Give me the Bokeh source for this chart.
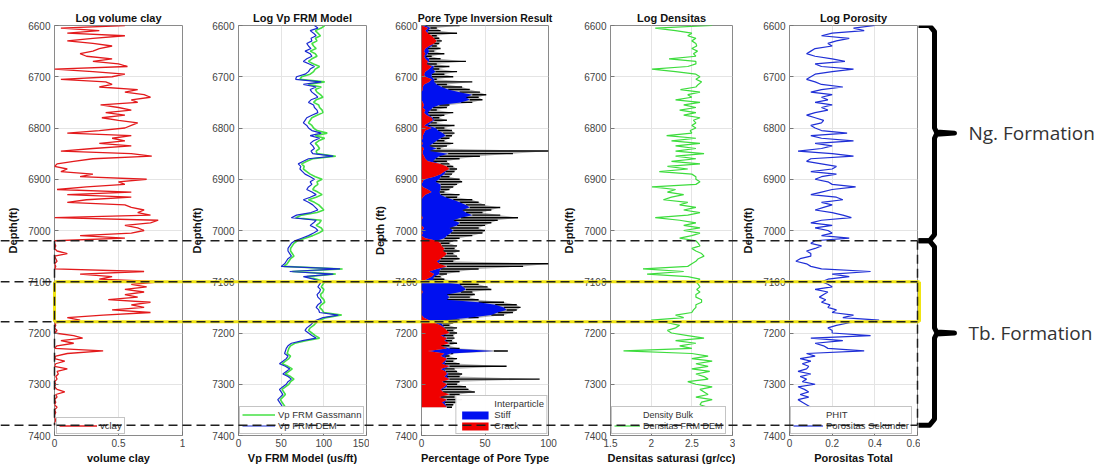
from bokeh.plotting import figure
from bokeh.models import Range1d, FixedTicker, Legend, LegendItem, GridBox, Spacer
from bokeh.embed import file_html
from bokeh.resources import INLINE
from bokeh.core.properties import value

# ---------------- data ----------------
depth_ticks = [6600, 6700, 6800, 6900, 7000, 7100, 7200, 7300, 7400]

vclay_depth = list(range(6600, 7385, 5))
vclay = [
    0.55, 0.05, 0.35, 0.10, 0.55, 0.30, 0.10, 0.30, 0.45, 0.35,
    0.30, 0.20, 0.25, 0.45, 0.30, 0.50, 0.57, 0.00, 0.30, 0.55,
    0.45, 0.05, 0.40, 0.45, 0.35, 0.65, 0.55, 0.70, 0.75, 0.60,
    0.65, 0.36, 0.50, 0.60, 0.40, 0.55, 0.37, 0.50, 0.65, 0.60,
    0.55, 0.35, 0.10, 0.60, 0.45, 0.55, 0.35, 0.60, 0.30, 0.05,
    0.60, 0.76, 0.30, 0.15, 0.02, 0.00, 0.10, 0.05, 0.30, 0.20,
    0.72, 0.50, 0.55, 0.25, 0.02, 0.60, 0.10, 0.60, 0.25, 0.10,
    0.55, 0.60, 0.70, 0.65, 0.75, 0.00, 0.81, 0.75, 0.55, 0.65,
    0.70, 0.60, 0.20, 0.55, 0.00, 0.00, 0.01, 0.00, 0.02, 0.10,
    0.00, 0.01, 0.02, 0.00, 0.01, 0.00, 0.70, 0.20, 0.45, 0.35,
    0.83, 0.60, 0.72, 0.55, 0.70, 0.55, 0.65, 0.42, 0.75, 0.60,
    0.70, 0.45, 0.75, 0.38, 0.10, 0.20, 0.00, 0.01, 0.00, 0.02,
    0.00, 0.15, 0.22, 0.05, 0.15, 0.02, 0.00, 0.38, 0.10, 0.01,
    0.00, 0.08, 0.01, 0.00, 0.10, 0.02, 0.03, 0.01, 0.02, 0.00,
    0.01, 0.00, 0.02, 0.08, 0.01, 0.02, 0.00, 0.01, 0.00, 0.02,
    0.00, 0.01, 0.00, 0.00, 0.01, 0.00, 0.00,
]

vp_depth = list(range(6600, 7350, 5))
vp_gassmann = [
    101, 97, 90, 93, 96, 90, 92, 86, 88, 91,
    84, 90, 92, 86, 82, 88, 95, 90, 88, 84,
    74, 72, 101, 82, 97, 90, 92, 96, 99, 91,
    88, 94, 95, 98, 99, 92, 86, 84, 82, 86,
    88, 92, 104, 90, 101, 94, 90, 93, 95, 91,
    92, 114, 87, 80, 74, 77, 76, 80, 84, 90,
    98, 92, 93, 89, 87, 93, 98, 91, 82, 89,
    94, 97, 100, 92, 74, 67, 97, 95, 91, 97,
    99, 94, 87, 78, 69, 65, 63, 61, 61, 63,
    65, 61, 59, 57, 53, 122, 63, 114, 80, 92,
    101, 99, 97, 100, 99, 96, 97, 100, 101, 97,
    95, 98, 100, 121, 103, 95, 91, 88, 84, 82,
    86, 90, 95, 79, 66, 61, 59, 58, 57, 61,
    59, 55, 51, 58, 63, 59, 55, 61, 65, 61,
    59, 55, 51, 53, 55, 52, 49, 51, 53, 55,
]
vp_dem = [
    89, 93, 84, 88, 91, 85, 86, 80, 82, 85,
    78, 84, 86, 80, 76, 83, 89, 84, 82, 78,
    68, 67, 97, 76, 91, 84, 86, 90, 93, 85,
    82, 88, 89, 92, 93, 86, 80, 78, 76, 80,
    82, 86, 97, 84, 95, 88, 84, 87, 89, 85,
    87, 111, 82, 76, 70, 73, 72, 75, 78, 84,
    89, 84, 86, 82, 80, 86, 91, 84, 76, 82,
    87, 90, 93, 85, 68, 62, 91, 88, 84, 90,
    93, 88, 82, 74, 66, 62, 60, 58, 58, 60,
    62, 58, 56, 54, 50, 119, 60, 111, 76, 88,
    97, 95, 93, 96, 95, 92, 93, 96, 97, 93,
    91, 94, 95, 117, 99, 91, 87, 84, 80, 78,
    82, 86, 91, 75, 62, 58, 56, 55, 54, 58,
    56, 52, 48, 55, 60, 56, 52, 58, 62, 58,
    56, 52, 48, 50, 52, 49, 46, 48, 50, 52,
]

pore_depth = list(range(6600, 7350, 5))
pore_crack = [
    0, 5, 3, 5, 8, 10, 12, 10, 6, 3,
    2, 3, 2, 3, 5, 4, 8, 6, 3, 2,
    3, 8, 6, 2, 1, 1, 0, 0, 0, 0,
    1, 2, 1, 3, 2, 4, 8, 9, 5, 2,
    8, 3, 2, 1, 1, 0, 1, 0, 2, 1,
    1, 2, 3, 5, 15, 20, 22, 18, 15, 10,
    2, 1, 0, 1, 5, 8, 3, 1, 0, 0,
    0, 0, 0, 0, 0, 1, 0, 0, 0, 2,
    0, 1, 0, 3, 12, 15, 16, 18, 17, 20,
    18, 15, 12, 14, 20, 12, 6, 10, 8, 4,
    0, 0, 0, 0, 1, 0, 0, 0, 0, 0,
    0, 0, 0, 0, 2, 6, 10, 15, 18, 20,
    22, 15, 20, 18, 22, 15, 20, 5, 18, 15,
    20, 18, 16, 22, 15, 19, 20, 18, 22, 16,
    20, 18, 15, 17, 22, 14, 20, 16, 18, 20,
]
pore_stiff = [
    3, 2, 2, 0, 0, 0, 0, 0, 2, 2,
    4, 2, 1, 3, 1, 0, 2, 3, 8, 6,
    5, 2, 4, 10, 15, 20, 30, 40, 35, 38,
    30, 12, 8, 4, 3, 2, 1, 1, 2, 3,
    3, 10, 15, 18, 14, 12, 8, 6, 10, 5,
    20, 12, 8, 4, 0, 0, 0, 1, 3, 5,
    12, 10, 15, 14, 10, 6, 12, 18, 25, 30,
    35, 38, 32, 35, 40, 30, 25, 30, 28, 20,
    25, 22, 20, 15, 0, 0, 0, 0, 0, 0,
    0, 0, 2, 0, 0, 3, 8, 4, 2, 5,
    15, 30, 33, 35, 30, 20, 22, 20, 45, 58,
    65, 67, 60, 55, 35, 12, 5, 2, 0, 0,
    0, 2, 0, 1, 0, 0, 2, 52, 5, 3,
    0, 1, 2, 0, 3, 0, 1, 2, 0, 1,
    0, 2, 1, 0, 0, 1, 0, 2, 1, 0,
]
pore_edge = [
    30, 12, 15, 28, 12, 14, 16, 14, 12, 15,
    10, 18, 8, 15, 35, 12, 22, 14, 28, 18,
    25, 12, 40, 20, 32, 38, 46, 51, 45, 48,
    40, 22, 20, 12, 25, 18, 14, 20, 12, 26,
    18, 24, 26, 24, 22, 18, 25, 20, 15, 100,
    72, 46, 30, 20, 22, 25, 28, 26, 24, 22,
    30, 32, 28, 25, 22, 18, 30, 28, 40, 45,
    50, 62, 55, 48, 62, 76, 60, 55, 50, 45,
    50, 48, 40, 30, 25, 22, 28, 26, 30, 25,
    28, 30, 25, 100, 80, 45, 30, 20, 15, 18,
    30, 45, 52, 55, 40, 42, 38, 45, 65, 75,
    78, 75, 72, 65, 45, 30, 25, 22, 28, 25,
    28, 25, 26, 24, 28, 22, 30, 68, 25, 22,
    28, 25, 30, 67, 26, 28, 32, 30, 93, 30,
    28, 35, 37, 42, 30, 26, 32, 28, 25, 24,
]

dens_depth = list(range(6600, 7355, 5))
dens_dem = [
    2.75, 2.05, 2.30, 2.50, 2.45, 2.55, 2.50, 2.55, 2.56, 2.50,
    2.57, 2.52, 2.55, 2.22, 2.55, 2.55, 2.45, 2.01, 2.30, 2.55,
    2.60, 2.55, 2.62, 2.58, 2.55, 2.36, 2.60, 2.45, 2.50, 2.30,
    2.60, 2.40, 2.55, 2.35, 2.55, 2.40, 2.60, 2.52, 2.55, 2.50,
    2.55, 2.48, 2.50, 2.19, 2.55, 2.25, 2.60, 2.30, 2.55, 2.30,
    2.65, 2.30, 2.55, 2.25, 2.60, 2.20, 2.45, 2.10, 2.50, 2.55,
    2.55, 2.60, 2.55, 2.01, 2.30, 2.20, 2.40, 2.25, 2.15, 2.45,
    2.35, 2.55, 2.40, 2.60, 2.45, 2.05, 2.35, 2.55, 2.40, 2.60,
    2.40, 2.60, 2.50, 2.35, 2.55, 2.58, 2.60, 2.50, 2.55, 2.62,
    2.65, 2.58, 2.55, 2.50, 2.45, 1.90, 2.40, 1.95, 2.45, 2.60,
    2.55, 2.58, 2.60, 2.56, 2.60, 2.55, 2.55, 2.62, 2.62, 2.55,
    2.55, 2.52, 2.50, 2.30, 2.40, 2.00, 2.20, 2.35, 2.30, 2.20,
    2.25, 2.45, 2.65, 2.30, 2.55, 2.35, 2.50, 1.66, 2.50, 2.70,
    2.50, 2.75, 2.55, 2.70, 2.50, 2.72, 2.55, 2.65, 2.70, 2.45,
    2.55, 2.75, 2.60, 2.65, 2.70, 2.55, 2.75, 2.62, 2.60, 2.70,
    2.60,
]

por_depth = list(range(6600, 7350, 5))
por_sekunder = [
    0.40, 0.30, 0.35, 0.20, 0.15, 0.28, 0.22, 0.18, 0.20, 0.12,
    0.10, 0.08, 0.12, 0.20, 0.26, 0.12, 0.15, 0.30, 0.20, 0.12,
    0.10, 0.08, 0.12, 0.15, 0.25, 0.15, 0.10, 0.20, 0.15, 0.18,
    0.12, 0.20, 0.15, 0.18, 0.12, 0.08, 0.12, 0.16, 0.15, 0.10,
    0.12, 0.15, 0.27, 0.10, 0.15, 0.30, 0.12, 0.20, 0.15, 0.04,
    0.20, 0.30, 0.10, 0.08, 0.15, 0.22, 0.20, 0.10, 0.22, 0.15,
    0.12, 0.18, 0.20, 0.31, 0.20, 0.15, 0.10, 0.22, 0.25, 0.15,
    0.20, 0.16, 0.12, 0.20, 0.25, 0.29, 0.15, 0.10, 0.20, 0.12,
    0.18, 0.20, 0.15, 0.28, 0.12, 0.10, 0.15, 0.12, 0.08, 0.10,
    0.10, 0.05, 0.03, 0.08, 0.10, 0.15, 0.38, 0.20, 0.28, 0.18,
    0.15, 0.18, 0.20, 0.12, 0.18, 0.16, 0.14, 0.17, 0.15, 0.19,
    0.18, 0.22, 0.20, 0.30, 0.25, 0.42, 0.28, 0.22, 0.18, 0.20,
    0.20, 0.38, 0.10, 0.25, 0.12, 0.16, 0.18, 0.35, 0.08, 0.12,
    0.05, 0.10, 0.06, 0.09, 0.08, 0.04, 0.10, 0.05, 0.08, 0.06,
    0.12, 0.04, 0.07, 0.09, 0.05, 0.09, 0.04, 0.06, 0.08, 0.10,
]

formation_names = ["Ng. Formation", "Tb. Formation"]
formation_tops = [6600, 7020]
formation_bases = [7020, 7380]
zone_top, zone_base = 7100, 7178

# ---------------- layout / style ----------------
FONT = "Liberation Sans"
H = 470
TOP, BOTTOM = 25, 35
W0 = 1                     # thin spacer column so the overlay's frame starts at 0
W1, L1 = 184, 53
W2, L2 = 184, 53
W3, L3, R3 = 191, 52, 12
W4, L4 = 175, 45
W5, L5 = 185, 54
W6 = 179
TOTAL_W = W0 + W1 + W2 + W3 + W4 + W5 + W6


def style_axis(ax):
    ax.major_tick_in = 4
    ax.major_tick_out = 0
    ax.minor_tick_line_color = None
    ax.axis_line_color = None
    ax.major_tick_line_color = "#777777"
    ax.major_label_text_font = FONT
    ax.major_label_text_font_size = "10px"
    ax.major_label_text_color = "#444444"
    ax.axis_label_text_font = FONT
    ax.axis_label_text_font_size = "11px"
    ax.axis_label_text_font_style = "bold"
    ax.axis_label_text_color = "#111111"


def style_title(p, size="11px"):
    p.title.align = "center"
    p.title.text_font = FONT
    p.title.text_font_size = size
    p.title.text_font_style = "bold"
    p.title.text_color = "#111111"
    if "standoff" in p.title.properties():
        p.title.standoff = 4


def panel(title, xr, xticks, xlabels, xlabel, ylabel, width, left_border,
          right_border=3, title_size="11px"):
    p = figure(width=width, height=H, output_backend="svg", toolbar_location=None,
               x_range=Range1d(*xr), y_range=Range1d(7400, 6600),
               min_border_left=left_border, min_border_right=right_border,
               min_border_top=TOP, min_border_bottom=BOTTOM, title=title)
    style_title(p, title_size)
    style_axis(p.xaxis[0])
    style_axis(p.yaxis[0])
    p.xaxis.ticker = FixedTicker(ticks=xticks)
    p.xaxis.major_label_overrides = {t: l for t, l in zip(xticks, xlabels)}
    p.yaxis.ticker = FixedTicker(ticks=depth_ticks)
    p.xaxis.axis_label = xlabel
    p.yaxis.axis_label = ylabel
    p.xaxis.major_label_standoff = 3
    p.xaxis.axis_label_standoff = 2
    p.yaxis.major_label_standoff = 4
    p.yaxis.axis_label_standoff = 6
    p.grid.grid_line_color = "#e4e4e4"
    p.outline_line_color = "#8a8a8a"
    return p


def style_legend(lg, loc, gw=36, size="9.5px"):
    lg.location = loc
    lg.label_text_font = FONT
    lg.label_text_font_size = size
    lg.label_text_color = "#333333"
    lg.border_line_color = "#8a8a8a"
    lg.margin = 1
    lg.padding = 2
    lg.spacing = 0
    lg.label_height = 11
    lg.glyph_height = 11
    lg.glyph_width = gw
    lg.label_standoff = 3


# panel 1
p1 = panel("Log volume clay", (0, 1), [0, 0.5, 1], ["0", "0.5", "1"], "volume clay",
           "Depth(ft)", W1, L1)
p1.line(vclay, vclay_depth, color="#e31a1c", line_width=1.3, legend_label="vclay")
style_legend(p1.legend[0], (2, 1), gw=38)

# panel 2
p2 = panel("Log Vp FRM Model", (0, 150), [0, 50, 100, 150], ["0", "50", "100", "150"],
           "Vp FRM Model (us/ft)", "Depth(ft)", W2, L2)
p2.line(vp_gassmann, vp_depth, color="#45e045", line_width=1.6, legend_label="Vp FRM Gassmann")
p2.line(vp_dem, vp_depth, color="#1a2ad0", line_width=1.2, legend_label="Vp FRM DEM")
style_legend(p2.legend[0], (1, 1), gw=33)

# panel 3
p3 = panel("Pore Type Inversion Result", (0, 100), [0, 50, 100], ["0", "50", "100"],
           "Percentage of Pore Type", "Depth (ft)", W3, L3, right_border=R3,
           title_size="10.5px")
stiff_top = [c + s for c, s in zip(pore_crack, pore_stiff)]
zeros = [0] * len(pore_depth)
p3.harea(x1=zeros, x2=pore_edge, y=pore_depth, fill_color="#000000", fill_alpha=0.3)
p3.segment(x0=stiff_top, x1=pore_edge, y0=pore_depth, y1=pore_depth,
           line_color="#000000", line_width=1.4)
r_stiff = p3.harea(x1=pore_crack, x2=stiff_top, y=pore_depth, fill_color="#0010f0")
r_crack = p3.harea(x1=zeros, x2=pore_crack, y=pore_depth, fill_color="#f00000")
r_inter = p3.harea(x1=[], x2=[], y=[], fill_color="white")
lg3 = Legend(items=[LegendItem(label="Interparticle", renderers=[r_inter]),
                    LegendItem(label="Stiff", renderers=[r_stiff]),
                    LegendItem(label="Crack", renderers=[r_crack])])
p3.add_layout(lg3)
style_legend(lg3, "bottom_right", gw=33)
lg3.glyph_height = 10

# panel 4
p4 = panel("Log Densitas", (1.5, 3), [1.5, 2, 2.5, 3], ["1.5", "2", "2.5", "3"],
           "Densitas saturasi (gr/cc)", "Depth(ft)", W4, L4)
p4.line([], [], color="#e06060", line_width=1.2, legend_label="Density Bulk")
p4.line(dens_dem, dens_depth, color="#3ddc3d", line_width=1.2, legend_label="Densitas FRM DEM")
style_legend(p4.legend[0], (1, 1), gw=26, size="9px")

# panel 5
p5 = panel("Log Porosity", (0, 0.6), [0, 0.2, 0.4, 0.6], ["0", "0.2", "0.4", "0.6"],
           "Porositas Total", "Depth(ft)", W5, L5)
p5.line([], [], color="#f0f060", line_width=1.5, legend_label="PHIT")
p5.line(por_sekunder, por_depth, color="#1f2fd6", line_width=1.2,
        legend_label="Porositas Sekunder")
style_legend(p5.legend[0], (1, 1), gw=30)

# overlay: zone lines, braces and formation names across the whole width
ov = figure(width=TOTAL_W, height=H, output_backend="svg", toolbar_location=None,
            x_range=Range1d(0, TOTAL_W), y_range=Range1d(7400, 6600),
            min_border_left=0, min_border_right=0, min_border_top=TOP,
            min_border_bottom=BOTTOM, title=" ", y_axis_location=None)
style_title(ov)
axo = ov.xaxis[0]
style_axis(axo)
axo.axis_label = "x"
axo.axis_label_text_alpha = 0
axo.major_label_text_alpha = 0
axo.major_tick_line_color = None
axo.major_label_standoff = 3
axo.axis_label_standoff = 2
ov.grid.visible = False
ov.outline_line_color = None
ov.background_fill_color = None
ov.border_fill_color = None

x_start = W0 + L1                                      # left edge of panel 1 frame
x_end = W0 + W1 + W2 + W3 + W4 + W5 - 3                # right edge of panel 5 frame
zone_y = [zone_top, zone_base]
form_y = [formation_bases[0], formation_bases[1]]
# yellow zone box
ov.segment(x0=[x_start] * 2, x1=[x_end + 2] * 2, y0=zone_y, y1=zone_y,
           line_color="#f0e412", line_width=3)
ov.segment(x0=[x_start, x_end + 2], x1=[x_start, x_end + 2], y0=[zone_top] * 2,
           y1=[zone_base] * 2, line_color="#f0e412", line_width=3)
# black dashed boundaries
ov.segment(x0=[0] * 4, x1=[x_end] * 4, y0=zone_y + form_y, y1=zone_y + form_y,
           line_color="#1e1e1e", line_width=1.5, line_dash="9 5")
ov.segment(x0=[x_start, x_end], x1=[x_start, x_end], y0=[formation_bases[0]] * 2,
           y1=[formation_bases[1]] * 2, line_color="#1e1e1e", line_width=1.5,
           line_dash="9 5")

hook, vert, tip = x_end + 1, x_end + 17, x_end + 37
for top, base, name in zip(formation_tops, formation_bases, formation_names):
    mid = (top + base) / 2
    bx = [hook, vert - 5, vert, vert, vert + 2, tip, vert + 2, vert, vert, vert - 5, hook]
    by = [top, top, top + 12, mid - 10, mid - 2, mid, mid + 2, mid + 10, base - 12,
          base, base]
    ov.line(bx, by, line_width=5, line_color="black", line_join="round")
    ov.text(x=[x_end + 51], y=[mid], text=[name], text_font=value("Open Sans"),
            text_font_size="19px", text_color="#333333", text_baseline="middle",
            text_align="left")

grid = GridBox(children=[(Spacer(width=W0, height=H), 0, 0),
                         (p1, 0, 1), (p2, 0, 2), (p3, 0, 3), (p4, 0, 4), (p5, 0, 5),
                         (Spacer(width=W6, height=H), 0, 6), (ov, 0, 0, 1, 7)])
open("out.html", "w").write(file_html(grid, INLINE))
